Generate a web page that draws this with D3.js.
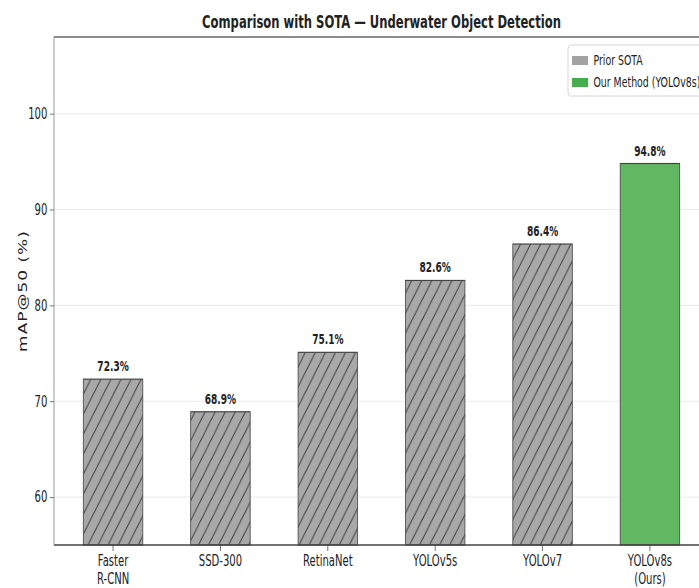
<!DOCTYPE html>
<html>
<head>
<meta charset="utf-8">
<script src="https://cdn.jsdelivr.net/npm/d3@7"></script>
<style>
  html, body { margin: 0; padding: 0; background: #fff; overflow: hidden; }
  text { font-family: "DejaVu Sans", sans-serif; fill: #222; }
</style>
</head>
<body>
<svg id="chart" width="699" height="588"></svg>
<script>
// mAP@50 results for each detector
const methods = ["Faster\nR-CNN", "SSD-300", "RetinaNet", "YOLOv5s", "YOLOv7", "YOLOv8s\n(Ours)"];
const mapScores = [72.3, 68.9, 75.1, 82.6, 86.4, 94.8];
const isOurs = [false, false, false, false, false, true];
const yTicks = [60, 70, 80, 90, 100];
const legendLabels = ["Prior SOTA", "Our Method (YOLOv8s)"];

const W = 699, H = 588;
const sx = 0.67; // the whole figure is drawn in a horizontally condensed frame
const plot = { left: 54, right: 709, top: 37, bottom: 545 };

const svg = d3.select("#chart");
const g = svg.append("g").attr("transform", `scale(${sx},1)`);

const x = d3.scaleBand()
  .domain(methods)
  .range([plot.left / sx, plot.right / sx])
  .paddingInner(0.446)
  .paddingOuter(0.273);

const y = d3.scaleLinear().domain([55, 108]).range([plot.bottom, plot.top]);

// diagonal hatch for prior methods
const defs = svg.append("defs");
const pat = defs.append("pattern")
  .attr("id", "hatch")
  .attr("patternUnits", "userSpaceOnUse")
  .attr("width", 15).attr("height", 20);
pat.append("rect").attr("width", 15).attr("height", 20).attr("fill", "#a8a8a8");
pat.append("path")
  .attr("d", "M-3,24 L18,-4 M-18,24 L3,-4 M12,24 L33,-4")
  .attr("stroke", "#3a3a3a").attr("stroke-width", 1.3);

// grid
g.append("g").selectAll("line").data(yTicks).join("line")
  .attr("x1", plot.left / sx).attr("x2", plot.right / sx)
  .attr("y1", d => y(d)).attr("y2", d => y(d))
  .attr("stroke", "#e6e6e6").attr("stroke-width", 1);

// bars
g.append("g").selectAll("rect").data(methods).join("rect")
  .attr("x", d => x(d))
  .attr("width", x.bandwidth())
  .attr("y", (d, i) => y(mapScores[i]))
  .attr("height", (d, i) => y(55) - y(mapScores[i]))
  .attr("fill", (d, i) => isOurs[i] ? "#62b862" : "url(#hatch)")
  .attr("stroke", "#444")
  .attr("stroke-width", 1.2);

// value labels
g.append("g").selectAll("text").data(methods).join("text")
  .attr("x", d => x(d) + x.bandwidth() / 2)
  .attr("y", (d, i) => y(mapScores[i]) - 8)
  .attr("text-anchor", "middle")
  .attr("font-size", 13.5)
  .attr("font-weight", "bold")
  .text((d, i) => mapScores[i].toFixed(1) + "%");

// y axis
const yAxis = g.append("g")
  .attr("transform", `translate(${plot.left / sx},0)`)
  .call(d3.axisLeft(y).tickValues(yTicks).tickSize(6).tickPadding(4));
yAxis.select(".domain").remove();
yAxis.selectAll(".tick line").attr("stroke", "#555");
yAxis.selectAll(".tick text").attr("font-size", 15).attr("fill", "#222")
  .attr("font-family", "DejaVu Sans");

// x axis
const xAxis = g.append("g")
  .attr("transform", `translate(0,${plot.bottom})`)
  .call(d3.axisBottom(x).tickSize(6).tickPadding(4));
xAxis.select(".domain").remove();
xAxis.selectAll(".tick line").attr("stroke", "#555");
xAxis.selectAll(".tick text").each(function(d) {
  const t = d3.select(this).text("").attr("font-size", 15).attr("fill", "#222")
    .attr("font-family", "DejaVu Sans");
  d.split("\n").forEach((line, i) => {
    t.append("tspan").attr("x", 0).attr("dy", i === 0 ? "0.71em" : "1.25em").text(line);
  });
});

// frame
const frame = g.append("g").attr("fill", "none").attr("stroke-width", 1.3);
frame.append("line").attr("x1", plot.left / sx).attr("x2", plot.right / sx)
  .attr("y1", plot.top).attr("y2", plot.top).attr("stroke", "#666");
frame.append("line").attr("x1", plot.left / sx).attr("x2", plot.right / sx)
  .attr("y1", plot.bottom).attr("y2", plot.bottom).attr("stroke", "#444");
frame.append("line").attr("x1", plot.left / sx).attr("x2", plot.left / sx)
  .attr("y1", plot.top).attr("y2", plot.bottom).attr("stroke", "#888");

// title
g.append("text")
  .attr("x", (plot.left + plot.right) / 2 / sx)
  .attr("y", 28)
  .attr("text-anchor", "middle")
  .attr("font-size", 17.3)
  .attr("font-weight", "bold")
  .text("Comparison with SOTA — Underwater Object Detection");

// y label
g.append("text")
  .attr("transform", `translate(${27 / sx},${(plot.top + plot.bottom) / 2}) rotate(-90)`)
  .attr("text-anchor", "middle")
  .attr("font-size", 17)
  .attr("letter-spacing", 1)
  .text("mAP@50 (%)");

// legend
const lg = g.append("g").attr("transform", `translate(${568 / sx},45)`);
lg.append("rect").attr("width", 200).attr("height", 51).attr("rx", 4)
  .attr("fill", "#fff").attr("fill-opacity", 0.85).attr("stroke", "#ccc");
const legendColors = ["#a3a3a3", "#45ad4d"];
legendLabels.forEach((lab, i) => {
  const row = lg.append("g").attr("transform", `translate(6,${11 + i * 22})`);
  row.append("rect").attr("width", 24).attr("height", 9).attr("fill", legendColors[i]);
  row.append("text").attr("x", 32).attr("y", 9).attr("font-size", 14).text(lab);
});
</script>
</body>
</html>
